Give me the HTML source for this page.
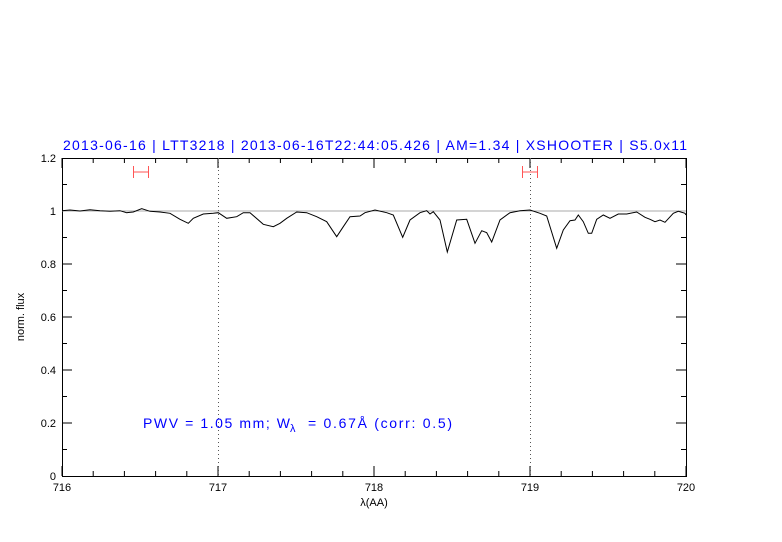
<!DOCTYPE html>
<html><head><style>body{margin:0;background:#fff}svg{display:block}text{font-family:"Liberation Sans",sans-serif}</style></head><body>
<svg width="782" height="542" xmlns="http://www.w3.org/2000/svg">
<text x="63" y="150" fill="#0000ff" font-size="14" textLength="624" lengthAdjust="spacing">2013-06-16 | LTT3218 | 2013-06-16T22:44:05.426 | AM=1.34 | XSHOOTER | S5.0x11</text>
<g stroke="#000" stroke-width="1" fill="none">
<rect x="62.5" y="158.5" width="624" height="318"/>
<path d="
M62 476v-10M218 476v-10M374 476v-10M530 476v-10M686 476v-10
M62 158v10M218 158v10M374 158v10M530 158v10M686 158v10
M93.2 476v-5M124.4 476v-5M155.6 476v-5M186.8 476v-5M249.2 476v-5M280.4 476v-5M311.6 476v-5M342.8 476v-5M405.2 476v-5M436.4 476v-5M467.6 476v-5M498.8 476v-5M561.2 476v-5M592.4 476v-5M623.6 476v-5M654.8 476v-5
M93.2 158v5M124.4 158v5M155.6 158v5M186.8 158v5M249.2 158v5M280.4 158v5M311.6 158v5M342.8 158v5M405.2 158v5M436.4 158v5M467.6 158v5M498.8 158v5M561.2 158v5M592.4 158v5M623.6 158v5M654.8 158v5
M62 423h10M62 370h10M62 317h10M62 264h10M62 211h10
M686 423h-10M686 370h-10M686 317h-10M686 264h-10M686 211h-10
M62 449.5h5M62 396.5h5M62 343.5h5M62 290.5h5M62 237.5h5M62 184.5h5
M686 449.5h-5M686 396.5h-5M686 343.5h-5M686 290.5h-5M686 237.5h-5M686 184.5h-5"/>
</g>
<line x1="62" y1="211" x2="686" y2="211" stroke="#aaa" stroke-width="1"/>
<g stroke="#555" stroke-dasharray="1,3" stroke-width="1"><line x1="218.5" y1="158" x2="218.5" y2="476"/><line x1="530.5" y1="158" x2="530.5" y2="476"/></g>
<g stroke="#ff5555" stroke-width="1"><path d="M133 172h16M133.5 166v12M148.5 166v12M522 172h16M522.5 166v12M537.5 166v12"/></g>
<polyline fill="none" stroke="#000" stroke-width="1" points="62,210.7 70,210 80,211 90,209.7 100,210.7 110,211.3 120,210.7 126.7,212.7 133.3,212 141.7,208.7 150,211.3 160,212 170,213.3 180,219.3 188.3,223.3 193.3,218.3 203.3,214 213.3,213.3 218.3,212.7 226.7,218.3 236.7,216.7 243.3,212.7 250,212.7 263.3,224.3 273.3,226.7 280,223.3 286.7,218.3 296.7,212 306.7,212.7 316.7,216.7 326.7,221.7 336.7,236.7 343.3,226.7 350,216.7 360,216 365,212.7 375,210 386.7,212.7 393.3,215 402.7,237.3 410,220 420,212.7 426.7,210.7 430,214 433.3,211.7 440,220 447.3,252 456.7,220 466.7,219.3 475,243.3 481.7,230.7 486.7,232.7 491.7,242 500,220 510,212.7 520,210.7 530,210 540,213.3 546.7,216 556.7,248.3 563.3,230 570,220.7 575,220 578.3,215 583.3,221.7 588.3,233.3 591.7,233.3 596.7,219.3 603.3,215 610,218.3 618.3,214 626.7,214 636.7,212 645,217.3 650,219.3 655,221.7 660,220 665,222.3 673.3,213.3 678.3,211.3 685,213.3 686,215"/>
<g font-size="11" text-anchor="middle" fill="#000">
<text x="62" y="491">716</text><text x="218" y="491">717</text><text x="374" y="491">718</text><text x="530" y="491">719</text><text x="686" y="491">720</text>
<text x="374" y="506">λ(AA)</text>
</g>
<g font-size="11" text-anchor="end" fill="#000">
<text x="56" y="480">0</text><text x="56" y="427">0.2</text><text x="56" y="374">0.4</text><text x="56" y="321">0.6</text><text x="56" y="268">0.8</text><text x="56" y="215">1</text><text x="56" y="162">1.2</text>
</g>
<text transform="translate(24,317) rotate(-90)" font-size="11" text-anchor="middle">norm. flux</text>
<g fill="#0000ff" font-size="14">
<text x="143" y="428" textLength="147" lengthAdjust="spacing">PWV = 1.05 mm; W</text>
<text x="290" y="432" font-size="11">λ</text>
<text x="308" y="428" textLength="144" lengthAdjust="spacing">= 0.67Å (corr: 0.5)</text>
</g>
</svg>
</body></html>
